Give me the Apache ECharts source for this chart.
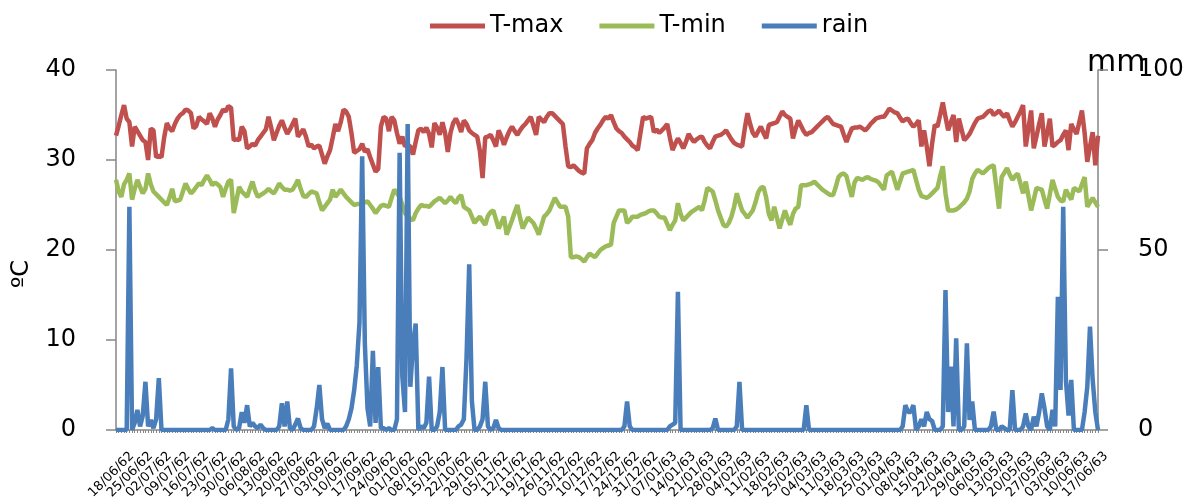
<!DOCTYPE html>
<html>
<head>
<meta charset="utf-8">
<script src="https://cdn.jsdelivr.net/npm/echarts@6/dist/echarts.min.js"></script>
<style>
  html, body { margin: 0; padding: 0; background: #fff; }
  #chart { width: 1203px; height: 499px; }
</style>
</head>
<body>
<div id="chart"></div>
<script>
// daily series, 18/06/62 .. 20/06/63 (one value per day)
var tmax = [
  32.7,33.8,35.0,36.1,34.6,34.2,31.5,33.7,33.2,32.7,32.2,32.0,30.0,33.5,33.3,30.3,30.5,30.3,32.5,34.1,
  33.5,33.2,34.0,34.6,35.0,35.2,35.6,35.5,35.2,33.5,33.8,34.8,34.5,34.3,34.0,35.2,34.6,33.7,34.5,35.0,
  35.6,35.4,36.0,35.8,32.2,32.3,32.2,33.7,33.2,31.3,31.5,31.8,31.6,32.2,32.6,33.0,33.4,34.8,33.6,32.2,
  33.0,33.8,34.4,33.6,32.9,33.4,34.0,34.6,32.6,33.0,33.4,32.6,31.5,31.7,31.3,31.5,31.6,30.6,29.6,30.4,
  31.1,32.5,34.0,33.2,34.2,35.6,35.4,34.8,33.0,30.8,31.0,31.2,31.8,30.9,31.2,30.3,29.5,28.7,29.0,33.7,
  34.8,34.6,33.2,34.8,34.4,33.0,31.8,32.6,31.5,31.7,31.5,30.6,32.0,33.3,33.5,33.1,33.6,32.9,31.4,34.1,
  33.6,32.8,34.2,33.0,30.9,33.0,34.1,34.6,34.0,33.1,34.4,34.0,33.3,33.0,32.8,32.6,31.0,28.0,32.5,32.6,
  32.8,32.2,31.5,33.3,32.6,31.7,32.5,33.2,33.7,33.2,32.8,33.3,33.7,34.0,34.4,34.8,33.8,32.8,34.8,34.5,
  34.2,34.8,35.2,35.2,34.9,34.6,34.3,34.0,31.5,29.3,29.2,29.4,29.1,28.8,28.6,28.5,31.3,31.8,32.2,33.0,
  33.5,33.9,34.4,34.8,34.6,35.0,34.2,33.5,33.2,33.0,32.6,32.3,32.0,31.6,31.4,31.1,33.0,34.8,34.6,34.7,
  34.8,33.1,33.4,33.0,33.3,33.6,34.0,32.5,31.1,31.8,32.4,31.9,31.3,32.0,32.9,32.4,32.0,32.3,32.5,32.6,
  32.0,31.6,31.3,32.0,32.6,32.7,32.8,33.0,33.3,32.8,32.3,31.9,31.7,31.6,31.5,33.5,35.2,34.0,33.0,32.6,
  33.2,33.7,33.0,32.4,33.9,34.0,34.1,34.2,34.8,35.4,35.0,34.8,34.6,32.4,33.5,34.4,33.8,33.2,32.8,33.0,
  33.1,33.4,33.7,34.0,34.3,34.6,34.8,34.4,34.0,33.9,33.8,33.7,32.8,32.0,32.8,33.5,33.6,33.6,33.7,33.5,
  33.3,33.6,34.0,34.3,34.6,34.7,34.8,34.8,35.2,35.7,35.5,35.3,35.2,34.7,34.3,34.5,34.6,34.1,33.7,34.0,
  34.4,31.5,33.3,31.5,29.3,31.8,33.9,33.7,35.0,36.4,34.8,33.3,34.2,35.0,32.0,34.6,33.4,32.2,32.5,32.9,
  33.5,34.1,34.6,34.7,34.8,35.1,35.4,35.5,35.0,35.2,35.5,35.1,34.8,35.2,34.4,33.7,34.2,34.8,35.4,36.1,
  31.5,33.5,35.5,31.3,32.6,34.0,35.2,31.5,33.0,34.6,31.5,31.7,32.0,32.2,32.8,33.3,31.1,34.0,33.4,32.9,
  34.2,35.5,33.0,29.8,31.5,33.1,29.4,32.7
];
var tmin = [
  27.8,26.5,25.9,27.3,27.8,28.5,25.6,26.8,27.8,27.0,26.3,26.8,28.5,27.3,26.5,26.2,25.9,25.6,25.3,25.0,
  25.8,26.8,25.4,25.5,25.6,26.5,27.4,26.8,26.3,26.6,27.0,27.4,27.2,27.8,28.3,27.8,27.2,27.5,27.3,27.0,
  25.9,26.8,27.6,27.8,24.1,25.5,27.0,26.5,26.2,25.9,26.8,27.6,26.6,25.9,26.1,26.3,26.5,26.8,26.5,26.3,
  26.8,27.4,27.0,26.7,26.7,26.6,26.7,27.2,27.8,26.8,26.0,25.9,26.2,26.5,26.4,26.3,25.3,24.4,24.8,25.2,
  25.6,26.7,25.9,26.3,26.7,26.3,25.9,25.6,25.3,25.0,25.1,25.1,25.2,25.3,25.4,25.0,24.6,24.1,24.5,24.9,
  25.0,24.9,24.8,25.8,26.7,26.3,25.9,25.0,24.1,23.7,23.5,23.3,24.1,24.6,25.0,24.9,24.9,24.8,25.1,25.4,
  25.6,25.8,25.5,25.2,25.5,25.9,25.5,25.2,25.8,26.1,24.8,24.6,24.4,23.7,23.0,23.4,23.7,23.2,22.8,23.8,
  24.2,24.4,23.4,22.4,23.0,23.7,21.7,22.5,23.3,24.2,25.0,23.6,22.4,23.0,23.6,23.3,23.0,22.4,21.7,22.7,
  23.7,24.0,24.4,25.1,25.8,25.3,24.8,24.8,24.8,23.7,19.2,19.2,19.3,19.2,19.0,18.7,19.2,19.6,19.4,19.2,
  19.6,20.0,20.2,20.4,20.5,20.6,23.0,23.7,24.4,24.4,24.4,23.0,23.3,23.7,23.7,23.7,23.9,24.0,24.1,24.3,
  24.4,24.4,24.1,23.7,23.6,23.6,22.9,22.2,22.8,23.3,25.2,24.0,23.3,23.6,23.9,24.2,24.4,24.6,24.8,24.4,
  25.5,26.9,26.7,26.5,25.5,24.4,23.6,22.8,22.6,23.0,23.7,24.8,26.3,25.3,24.4,24.0,23.6,24.0,24.4,25.3,
  26.4,26.9,27.0,25.8,24.0,23.3,24.8,23.6,22.4,23.4,24.4,23.5,22.8,24.0,24.6,24.8,27.2,27.2,27.2,27.3,
  27.4,27.6,27.3,27.0,26.7,26.5,26.3,26.1,26.1,27.0,28.1,28.4,28.5,28.2,27.0,25.9,27.5,28.0,27.9,27.8,
  28.0,28.1,27.9,27.8,27.7,27.5,27.1,26.7,28.3,28.5,28.7,27.7,26.7,27.6,28.5,28.6,28.7,28.8,28.9,27.8,
  26.7,26.0,25.9,25.8,26.0,26.3,26.6,26.9,28.2,29.3,26.3,24.4,24.4,24.4,24.5,24.7,25.0,25.3,25.7,26.5,
  27.9,28.5,28.9,28.7,28.5,28.8,29.1,29.3,29.4,27.0,24.6,28.1,28.6,29.1,28.4,27.8,28.2,28.5,27.4,26.3,
  27.6,26.0,24.4,25.6,26.9,26.8,26.7,25.6,24.6,26.2,27.8,26.8,25.9,25.5,25.4,26.7,26.1,25.6,26.9,26.7,
  26.5,27.3,28.1,24.8,25.3,25.8,25.3,24.8
];
var rain = [
  0,0,0,0,0,62,0,2,5.6,1,4,13.4,1,2.8,0.5,3,14.4,0,0,0,
  0,0,0,0,0,0,0,0,0,0,0,0,0,0,0,0,0.5,0,0,0,
  0,0,3,17.1,1,0,0.5,5,2,6.9,1,2,1,0.5,1.5,0.5,0,0,0,0,
  0,1,7.4,1,7.9,0.5,0,1.5,3.2,0.5,0,0,0,0,1,6,12.5,3,0.5,1.8,
  0,0,0,0,0,0,1,3,6,11,18,30,76,24,6,1,22,2,17.5,0.5,
  0.5,0,0.5,0,0,3,77,15,5,85,12,24,29.6,0,1,0.5,2,14.8,0,0,
  1,5,17.5,0,0,0,0,0,1,1.5,3,20,46,8,0,0,1,3,13.4,1,
  0,0.5,2.8,0.5,0,0,0,0,0,0,0,0,0,0,0,0,0,0,0,0,
  0,0,0,0,0,0,0,0,0,0,0,0,0,0,0,0,0,0,0,0,
  0,0,0,0,0,0,0,0,0,0,1,7.9,1,0,0,0,0,0,0,0,
  0,0,0,0,0,0,0,1,1.5,2,38.4,0,0,0,0,0,0,0,0,0,
  0,0,0,0.5,3.2,0,0,0,0,0,0,0,1,13.4,0,0,0,0,0,0,
  0,0,0,0,0,0,0,0,0,0,0,0,0,0,0,0,0,0,6.9,0,
  0,0,0,0,0,0,0,0,0,0,0,0,0,0,0,0,0,0,0,0,
  0,0,0,0,0,0,0,0,0,0,0,0,0,0,1,6.9,5,5,6.9,0,
  1,3,1,5,3,2.5,0,0,0,1,38.9,5,17.6,1,25.5,0,0,1,24.1,2.8,
  7.9,0,0,0,0,0,0,1,5.1,0,0,1,0.5,0,0,11.1,0,0,0,1,
  4.6,1,0,3.7,1,5,10.2,6,1,0,5.6,1,37,11.1,62,13.9,4,13.9,0,0,
  0,0,5,12,28.7,14,5,0
];

// dd/mm/yy (Thai year), month lengths as on the sheet (Feb = 28)
var monthDays = [31, 28, 31, 30, 31, 30, 31, 31, 30, 31, 30, 31];
var startDay = [18, 6, 62];

function pad(n) {
  return n < 10 ? "0" + n : "" + n;
}
function makeDates(n) {
  var d = startDay[0], m = startDay[1], y = startDay[2];
  var res = [];
  for (var i = 0; i < n; i++) {
    res.push(pad(d) + "/" + pad(m) + "/" + y);
    d++;
    if (d > monthDays[m - 1]) { d = 1; m++; }
    if (m > 12) { m = 1; y++; }
  }
  return res;
}
var dates = makeDates(tmax.length);

var font = "DejaVu Sans";
var axisGray = "#868686";

var setChart = function () {
  var option = {
    animation: false,
    backgroundColor: "#fff",
    textStyle: { fontFamily: font },
    legend: {
      top: 9,
      left: 425,
      itemWidth: 55,
      itemHeight: 5,
      itemGap: 36,
      icon: "rect",
      textStyle: { fontSize: 24, color: "#000", fontFamily: font },
      data: ["T-max", "T-min", "rain"],
    },
    grid: { left: 116, right: 105, top: 70, bottom: 69, outerBoundsMode: "none" },
    graphic: [
      {
        type: "text",
        left: 1087,
        top: 48,
        style: { text: "mm", fontSize: 30, fontFamily: font, fill: "#000" },
      },
      {
        type: "text",
        x: 22,
        y: 274,
        rotation: Math.PI / 2,
        style: {
          text: "ºC",
          fontSize: 24,
          fontFamily: font,
          fill: "#000",
          align: "center",
          verticalAlign: "middle",
        },
      },
    ],
    xAxis: {
      type: "category",
      data: dates,
      boundaryGap: false,
      axisLine: { lineStyle: { color: axisGray, width: 1.5 } },
      axisTick: { interval: 0, length: 3, lineStyle: { color: axisGray } },
      axisLabel: {
        interval: 6,
        rotate: 45,
        fontSize: 13,
        color: "#000",
        margin: 8,
        verticalAlign: "top",
        padding: [16, 0, 0, 0],
      },
      splitLine: { show: false },
    },
    yAxis: [
      {
        type: "value",
        min: 0,
        max: 40,
        interval: 10,
        axisLine: { show: true, lineStyle: { color: axisGray, width: 1.5 } },
        axisTick: { show: true, length: 10, lineStyle: { color: axisGray, width: 1.5 } },
        axisLabel: { fontSize: 24, color: "#000", margin: 40 },
        splitLine: { show: false },
      },
      {
        type: "value",
        min: 0,
        max: 100,
        interval: 50,
        axisLine: { show: true, lineStyle: { color: axisGray, width: 1.5 } },
        axisTick: { show: true, length: 10, lineStyle: { color: axisGray, width: 1.5 } },
        axisLabel: { fontSize: 24, color: "#000", margin: 40 },
        splitLine: { show: false },
      },
    ],
    series: [
      {
        name: "T-max",
        type: "line",
        yAxisIndex: 0,
        data: tmax,
        showSymbol: false,
        color: "#C0504D",
        lineStyle: { width: 4.5, color: "#C0504D" },
      },
      {
        name: "T-min",
        type: "line",
        yAxisIndex: 0,
        data: tmin,
        showSymbol: false,
        color: "#9BBB59",
        lineStyle: { width: 4.5, color: "#9BBB59" },
      },
      {
        name: "rain",
        type: "line",
        yAxisIndex: 1,
        data: rain,
        showSymbol: false,
        color: "#4A7EBB",
        lineStyle: { width: 4.5, color: "#4A7EBB" },
      },
    ],
  };
  var chartDom = document.getElementById("chart");
  var myChart = echarts.init(chartDom);
  option && myChart.setOption(option);
};
setChart();
</script>
</body>
</html>
